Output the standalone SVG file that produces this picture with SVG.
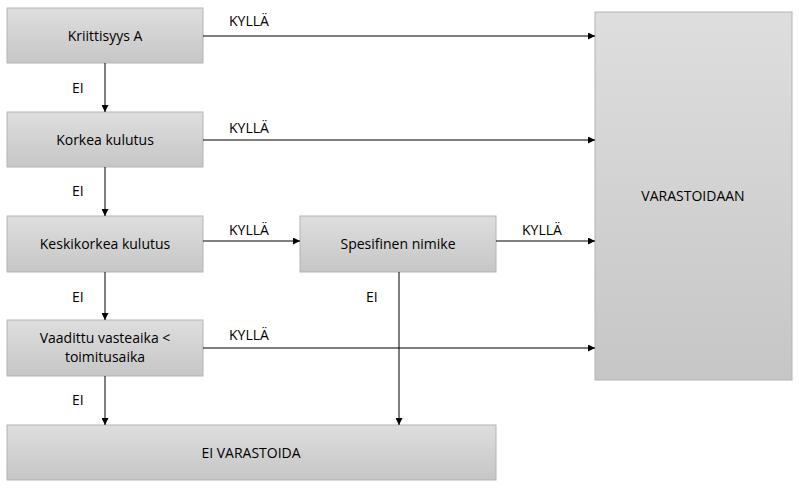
<svg xmlns="http://www.w3.org/2000/svg" width="799" height="489" viewBox="0 0 799 489">
<defs>
<linearGradient id="g" x1="0" y1="0" x2="0" y2="1"><stop offset="0" stop-color="#dedede"/><stop offset="1" stop-color="#c6c6c6"/></linearGradient>
<marker id="a" viewBox="0 0 10 10" refX="10" refY="5" markerWidth="7" markerHeight="7" orient="auto" markerUnits="userSpaceOnUse"><path d="M0,0 L10,5 L0,10 z" fill="#000"/></marker>
</defs>
<style>
rect{fill:url(#g);stroke:#b4b4b4;stroke-width:1}
text{font-family:"Open Sans","Liberation Sans",sans-serif;font-size:14px;fill:#000}
.c{text-anchor:middle}
line{stroke:#000;stroke-width:1;marker-end:url(#a)}
</style>
<rect width="799" height="489" fill="#fff" style="fill:#fff;stroke:none"/>
<g id="n1"><rect x="7" y="8" width="196" height="55"/><text class="c" x="105" y="41">Kriittisyys A</text></g>
<g id="n2"><rect x="7" y="112" width="196" height="55"/><text class="c" x="105" y="145">Korkea kulutus</text></g>
<g id="n3"><rect x="7" y="216" width="196" height="56"/><text class="c" x="105" y="249">Keskikorkea kulutus</text></g>
<g id="n4"><rect x="7" y="320" width="196" height="56"/><text class="c" x="105" y="343">Vaadittu vasteaika &lt;</text><text class="c" x="105" y="362">toimitusaika</text></g>
<g id="n5"><rect x="300" y="216" width="196" height="56"/><text class="c" x="398" y="249">Spesifinen nimike</text></g>
<g id="n6"><rect x="595" y="12" width="197" height="368"/><text class="c" x="693" y="201">VARASTOIDAAN</text></g>
<g id="n7"><rect x="7" y="425" width="489" height="55"/><text class="c" x="251" y="458">EI VARASTOIDA</text></g>
<g id="edges">
<line x1="203" y1="36" x2="595" y2="36"/>
<line x1="203" y1="140" x2="595" y2="140"/>
<line x1="203" y1="241" x2="300" y2="241"/>
<line x1="496" y1="241" x2="595" y2="241"/>
<line x1="203" y1="348" x2="595" y2="348"/>
<line x1="105" y1="63" x2="105" y2="112"/>
<line x1="105" y1="167" x2="105" y2="216"/>
<line x1="105" y1="272" x2="105" y2="320"/>
<line x1="105" y1="376" x2="105" y2="425"/>
<line x1="399" y1="272" x2="399" y2="425"/>
<text x="229" y="26">KYLLÄ</text>
<text x="229" y="133">KYLLÄ</text>
<text x="229" y="235">KYLLÄ</text>
<text x="522" y="235">KYLLÄ</text>
<text x="229" y="340">KYLLÄ</text>
<text x="72" y="93">EI</text>
<text x="72" y="196">EI</text>
<text x="72" y="302">EI</text>
<text x="72" y="405">EI</text>
<text x="366" y="302">EI</text>
</g>
</svg>
